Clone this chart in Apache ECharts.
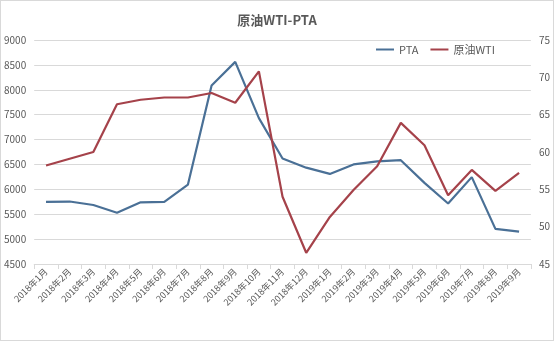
<!DOCTYPE html>
<html><head><meta charset="utf-8">
<script src="https://cdn.jsdelivr.net/npm/echarts@6/dist/echarts.min.js"></script>
<style>html,body{margin:0;padding:0;background:#fff}#c{width:552px;height:339px;border:1px solid #d9d9d9}</style>
</head><body><div id="c"></div>
<script>
const categories = ['2018年1月','2018年2月','2018年3月','2018年4月','2018年5月','2018年6月','2018年7月','2018年8月','2018年9月','2018年10月','2018年11月','2018年12月','2019年1月','2019年2月','2019年3月','2019年4月','2019年5月','2019年6月','2019年7月','2019年8月','2019年9月'];
const ptaValues = [5750,5755,5685,5530,5740,5750,6095,8085,8560,7430,6620,6435,6310,6500,6560,6585,6130,5715,6245,5205,5150];
const wtiValues = [58.2,59.1,60.0,66.4,67.0,67.3,67.3,67.9,66.6,70.8,54.0,46.5,51.3,54.9,58.1,63.9,60.9,54.2,57.6,54.8,57.2];
const font = '"Noto Sans CJK SC", "Noto Sans", sans-serif';
const chart = echarts.init(document.getElementById('c'));
chart.setOption({
  animation:false,
  textStyle:{fontFamily:font},
  title:{text:'原油WTI-PTA',left:'center',top:8,textStyle:{fontSize:13,fontWeight:'bold',color:'#595959',fontFamily:font}},
  legend:{top:38,left:370,itemWidth:18,itemHeight:2,itemGap:12,icon:'rect',textStyle:{fontSize:11,color:'#595959',fontFamily:font},data:['PTA','原油WTI']},
  grid:{left:32,right:22,top:39,bottom:76},
  xAxis:{type:'category',data:categories,boundaryGap:true,
    axisLine:{lineStyle:{color:'#d9d9d9'}},axisTick:{show:true,lineStyle:{color:'#d9d9d9'}},
    axisLabel:{interval:0,rotate:45,fontSize:9,color:'#595959',margin:6,fontFamily:font}},
  yAxis:[
    {type:'value',min:4500,max:9000,interval:500,axisLine:{show:false},axisTick:{show:false},
     axisLabel:{fontSize:10,color:'#595959',margin:8,fontFamily:font,formatter:v=>String(v)},splitLine:{lineStyle:{color:'#d9d9d9'}}},
    {type:'value',min:45,max:75,interval:5,axisLine:{show:false},axisTick:{show:false},
     axisLabel:{fontSize:10,color:'#595959',margin:8,fontFamily:font,formatter:v=>String(v)},splitLine:{show:false}}
  ],
  series:[
    {name:'PTA',type:'line',data:ptaValues,yAxisIndex:0,symbol:'none',lineStyle:{width:2.2,color:'#4A7096'},itemStyle:{color:'#4A7096'}},
    {name:'原油WTI',type:'line',data:wtiValues,yAxisIndex:1,symbol:'none',lineStyle:{width:2.2,color:'#A5424A'},itemStyle:{color:'#A5424A'}}
  ]
});
</script></body></html>
